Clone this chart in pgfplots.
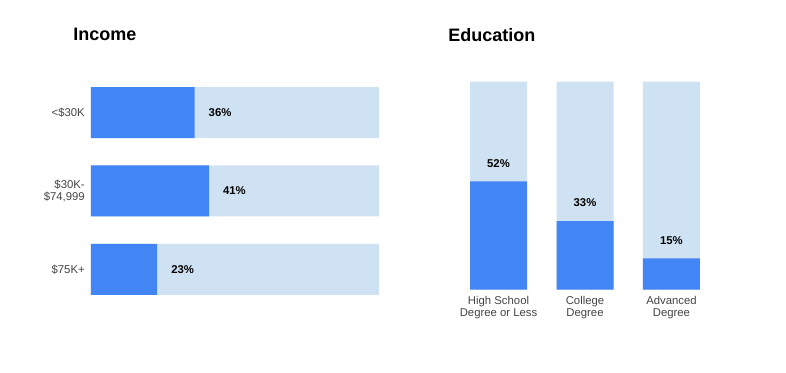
\documentclass[border=0pt]{standalone}
\usepackage{pgfplots}
\pgfplotsset{compat=1.18}
\usepackage{fontspec}
\setmainfont{Liberation Sans}
\definecolor{gblue}{HTML}{4285F4}
\definecolor{glight}{HTML}{CFE2F3}
\definecolor{tgray}{HTML}{444444}
\begin{document}
\begin{tikzpicture}
\path[use as bounding box] (0,0) rectangle (589.5pt,279.75pt);
\begin{axis}[
 at={(68.25pt,214.5pt)}, anchor=north west,
 scale only axis, width=216pt, height=156pt,
 xbar, bar width=38.25pt, bar shift=0pt,
 xmin=0, xmax=100, ymin=-0.325, ymax=2.325, y dir=reverse,
 axis line style={draw=none}, major tick length=0pt,
 xtick=\empty, ytick={0,1,2},
 yticklabels={{<\$30K},{\$30K-\\\$74,999},{\$75K+}},
 yticklabel style={align=right, font=\fontsize{8.5}{9}\selectfont, text=tgray, inner sep=0pt},
 yticklabel shift=4.5pt,
 /pgf/number format/assume math mode=true,
 title={\textbf{Income}},
 title style={anchor=west, at={(0,1)}, xshift=-13.5pt, yshift=33.2pt, font=\fontsize{13.5}{16}\selectfont, inner sep=0pt},
 clip=false,
]
\addplot[fill=glight, draw=none] coordinates {(100,0) (100,1) (100,2)};
\addplot[fill=gblue, draw=none,
  nodes near coords={\pgfmathprintnumber{\pgfplotspointmeta}\%},
  every node near coord/.append style={font=\bfseries\fontsize{8.5}{10}\selectfont, text=black, anchor=west, xshift=7pt}]
  coordinates {(36,0) (41,1) (23,2)};
\end{axis}
\begin{axis}[
 at={(352.5pt,62.5pt)}, anchor=south west,
 scale only axis, width=172.5pt, height=156pt,
 ybar, bar width=42.75pt, bar shift=0pt,
 ymin=0, ymax=100, xmin=-0.33, xmax=2.33,
 axis line style={draw=none}, major tick length=0pt,
 ytick=\empty, xtick={0,1,2},
 xticklabels={{High School\\Degree or Less},{College\\Degree},{Advanced\\Degree}},
 xticklabel style={align=center, font=\fontsize{8.5}{9}\selectfont, text=tgray, inner sep=0pt, anchor=north},
 xticklabel shift=4.5pt,
 /pgf/number format/assume math mode=true,
 title={\textbf{Education}},
 title style={anchor=west, at={(0,1)}, xshift=-16.5pt, yshift=29.25pt, font=\fontsize{13.5}{16}\selectfont, inner sep=0pt},
 clip=false,
]
\addplot[fill=glight, draw=none] coordinates {(0,100) (1,100) (2,100)};
\addplot[fill=gblue, draw=none,
  nodes near coords={\pgfmathprintnumber{\pgfplotspointmeta}\%},
  every node near coord/.append style={font=\bfseries\fontsize{8.5}{10}\selectfont, text=black, anchor=center, yshift=13.7pt}]
  coordinates {(0,52) (1,33) (2,15)};
\end{axis}
\end{tikzpicture}
\end{document}
